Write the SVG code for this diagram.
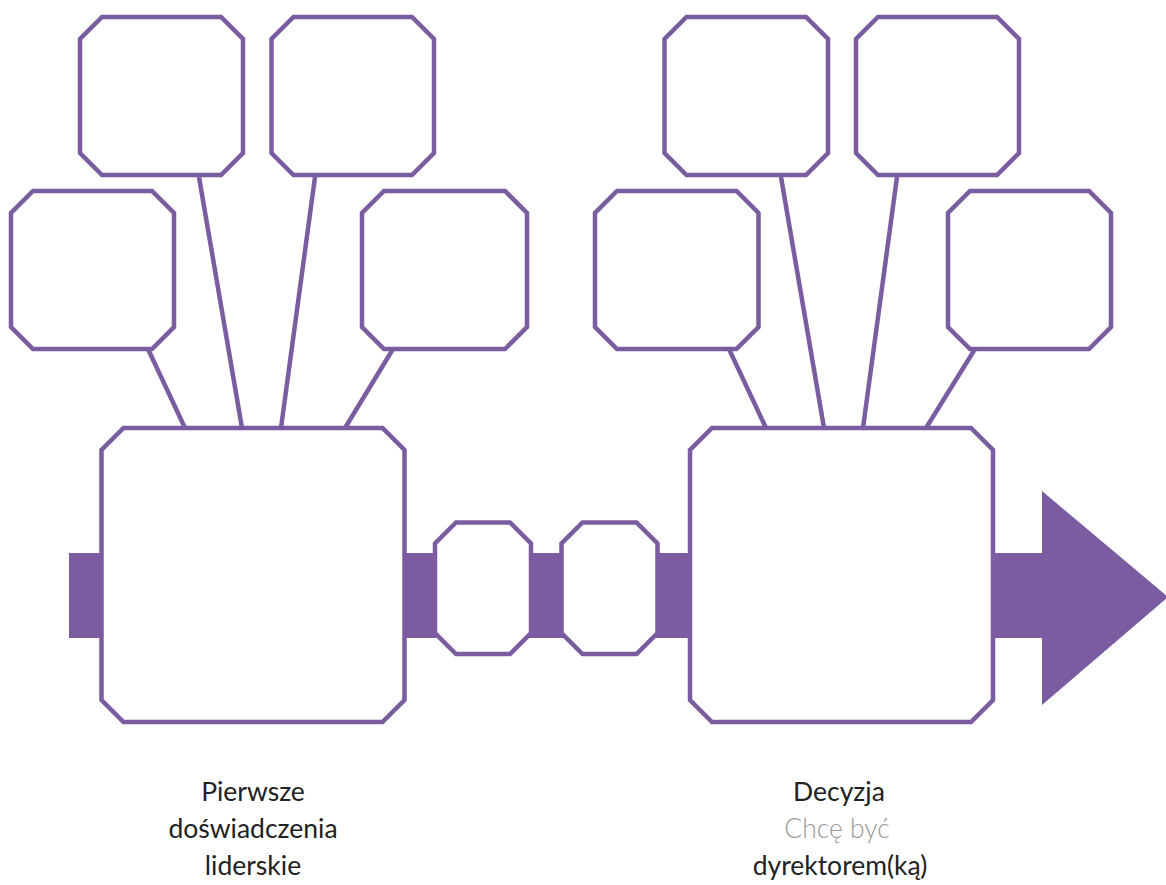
<svg xmlns="http://www.w3.org/2000/svg" width="1166" height="885" viewBox="0 0 1166 885">
<style>
.box{fill:#fff;stroke:#7b5ca0;stroke-width:4.5;stroke-linejoin:miter}
.con{stroke:#7b5ca0;stroke-width:4.5;fill:none}
.band{fill:#7b5ca0}
.lbl{font-family:Lato,"Liberation Sans",sans-serif;font-size:26.5px;fill:#222;text-anchor:middle}
.sub{font-weight:300;fill:#999}
</style>
<rect width="1166" height="885" fill="#fff"/>
<g id="timeline">
<rect class="band" x="69" y="553" width="990" height="85"/>
<polygon class="band" points="1042,491 1168,597 1042,705"/>
</g>
<g id="connectors">
<line class="con" x1="148" y1="349" x2="185" y2="428"/>
<line class="con" x1="199" y1="177" x2="242" y2="428"/>
<line class="con" x1="315" y1="177" x2="281" y2="428"/>
<line class="con" x1="393" y1="349" x2="345" y2="428"/>
<line class="con" x1="729" y1="349" x2="766" y2="428"/>
<line class="con" x1="781" y1="177" x2="824" y2="428"/>
<line class="con" x1="897" y1="177" x2="863" y2="428"/>
<line class="con" x1="975" y1="349" x2="926" y2="428"/>
</g>
<g id="boxA"><path class="box" d="M102,17 H221 L243,39 V153 L221,175 H102 L80,153 V39 Z"/></g>
<g id="boxB"><path class="box" d="M293.5,17 H412 L434,39 V153 L412,175 H293.5 L271.5,153 V39 Z"/></g>
<g id="boxC"><path class="box" d="M33,191 H152 L174,213 V327 L152,349 H33 L11,327 V213 Z"/></g>
<g id="boxD"><path class="box" d="M384,191 H505 L527,213 V327 L505,349 H384 L362,327 V213 Z"/></g>
<g id="boxE"><path class="box" d="M686.5,17 H806 L828,39 V153 L806,175 H686.5 L664.5,153 V39 Z"/></g>
<g id="boxF"><path class="box" d="M878,17 H997 L1019,39 V153 L997,175 H878 L856,153 V39 Z"/></g>
<g id="boxG"><path class="box" d="M617,191 H736.5 L758.5,213 V327 L736.5,349 H617 L595,327 V213 Z"/></g>
<g id="boxH"><path class="box" d="M970,191 H1089 L1111,213 V327 L1089,349 H970 L948,327 V213 Z"/></g>
<g id="big1"><path class="box" d="M123.5,428 H382.5 L404.5,450 V700 L382.5,722 H123.5 L101.5,700 V450 Z"/></g>
<g id="small1"><path class="box" d="M456,522.5 H510 L531,543.5 V633 L510,654 H456 L435,633 V543.5 Z"/></g>
<g id="small2"><path class="box" d="M582.5,522.5 H636.5 L657.5,543.5 V633 L636.5,654 H582.5 L561.5,633 V543.5 Z"/></g>
<g id="big2"><path class="box" d="M712,428 H971 L993,450 V700 L971,722 H712 L690,700 V450 Z"/></g>
<g id="label1">
<text class="lbl" x="253" y="801">Pierwsze</text>
<text class="lbl" x="253" y="838">doświadczenia</text>
<text class="lbl" x="253" y="875">liderskie</text>
</g>
<g id="label2">
<text class="lbl" x="839" y="801">Decyzja</text>
<text class="lbl sub" x="837" y="838">Chcę być</text>
<text class="lbl" x="840" y="875">dyrektorem(ką)</text>
</g>
</svg>
